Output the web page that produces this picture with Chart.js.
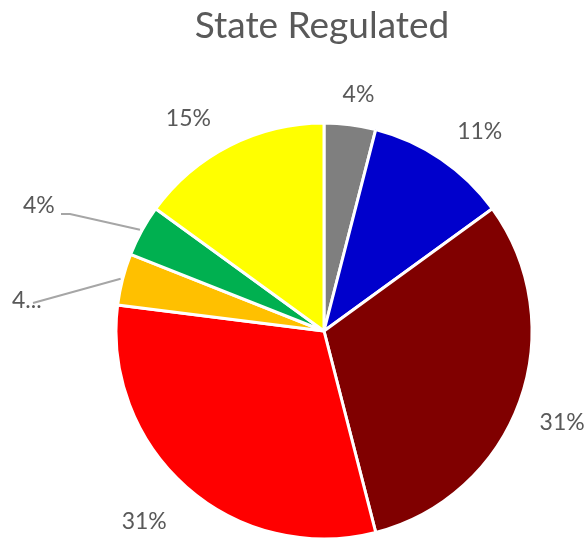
<!DOCTYPE html>
<html>
<head>
<meta charset="utf-8">
<script src="https://cdn.jsdelivr.net/npm/chart.js@4/dist/chart.umd.min.js"></script>
<style>
  html, body { margin: 0; padding: 0; background: #fff; }
  #wrap { width: 587px; height: 544px; position: relative; }
</style>
</head>
<body>
<div id="wrap"><canvas id="c" width="587" height="544"></canvas></div>
<script>
// Share of each category, clockwise from 12 o'clock
const categories = ['Gray', 'Blue', 'Maroon', 'Red', 'Orange', 'Green', 'Yellow'];
const shares = [4, 11, 31, 31, 4, 4, 15];
const sliceColors = ['#7F7F7F', '#0000CC', '#800000', '#FF0000', '#FFC000', '#00B050', '#FFFF00'];
// labels that are clipped to fit beside their leader line
const clipped = [false, false, false, false, true, false, false];
const chartTitle = 'State Regulated';

const FONT = 'Lato, "Open Sans", sans-serif';
const TEXT = '#595959';

function labelText(i) {
  const t = shares[i] + '%';
  return clipped[i] ? t.charAt(0) + '...' : t;
}

// Draws the title, the outside percentage labels and the leader lines
const pieLabels = {
  id: 'pieLabels',
  afterDatasetsDraw(chart, args, opts) {
    const ctx = chart.ctx;
    ctx.save();
    ctx.fillStyle = TEXT;
    ctx.textAlign = 'center';
    ctx.textBaseline = 'alphabetic';
    ctx.font = '37px ' + FONT;
    ctx.fillText(chartTitle, 322, 38);

    ctx.textBaseline = 'middle';
    ctx.font = '23px ' + FONT;
    const meta = chart.getDatasetMeta(0);
    meta.data.forEach((arc, i) => {
      const p = arc.getProps(['x', 'y', 'startAngle', 'endAngle', 'outerRadius'], true);
      const mid = (p.startAngle + p.endAngle) / 2;
      const cos = Math.cos(mid), sin = Math.sin(mid);
      const txt = labelText(i);
      const leader = opts.leaders[i];
      if (leader) {
        // leader line from the slice edge to the label
        const ex = p.x + cos * (p.outerRadius + 2);
        const ey = p.y + sin * (p.outerRadius + 2);
        ctx.strokeStyle = '#A6A6A6';
        ctx.lineWidth = 2;
        ctx.beginPath();
        ctx.moveTo(leader.lx, leader.ly);
        if (leader.kx !== undefined) ctx.lineTo(leader.kx, leader.ly);
        ctx.lineTo(ex, ey);
        ctx.stroke();
        ctx.textAlign = 'left';
        ctx.fillText(txt, leader.tx, leader.ty);
        ctx.textAlign = 'center';
        return;
      }
      const w = ctx.measureText(txt).width;
      const h = 18;
      const d = p.outerRadius + opts.gap + Math.abs(cos) * w / 2 + Math.abs(sin) * h / 2;
      const n = opts.nudge[i] || [0, 0];
      ctx.fillText(txt, p.x + cos * d + n[0], p.y + sin * d + n[1]);
    });
    ctx.restore();
  }
};

new Chart(document.getElementById('c'), {
  type: 'pie',
  data: {
    labels: categories,
    datasets: [{
      data: shares,
      backgroundColor: sliceColors,
      borderColor: '#FFFFFF',
      borderWidth: 3,
      radius: 208
    }]
  },
  options: {
    responsive: false,
    animation: false,
    events: [],
    layout: { padding: { top: 118, bottom: 0, left: 61, right: 0 } },
    plugins: {
      legend: { display: false },
      title: { display: false },
      tooltip: { enabled: false },
      pieLabels: {
        gap: 24,
        // small offsets that keep labels clear of one another
        nudge: {
          0: [4, 5],
          1: [14, 9],
          2: [-3, 5],
          3: [-12, 0],
          6: [-22, 11]
        },
        leaders: {
          4: { tx: 12, ty: 301, lx: 33, ly: 303 },
          5: { tx: 23, ty: 206, lx: 61, ly: 214, kx: 70 }
        }
      }
    }
  },
  plugins: [pieLabels]
});
</script>
</body>
</html>
